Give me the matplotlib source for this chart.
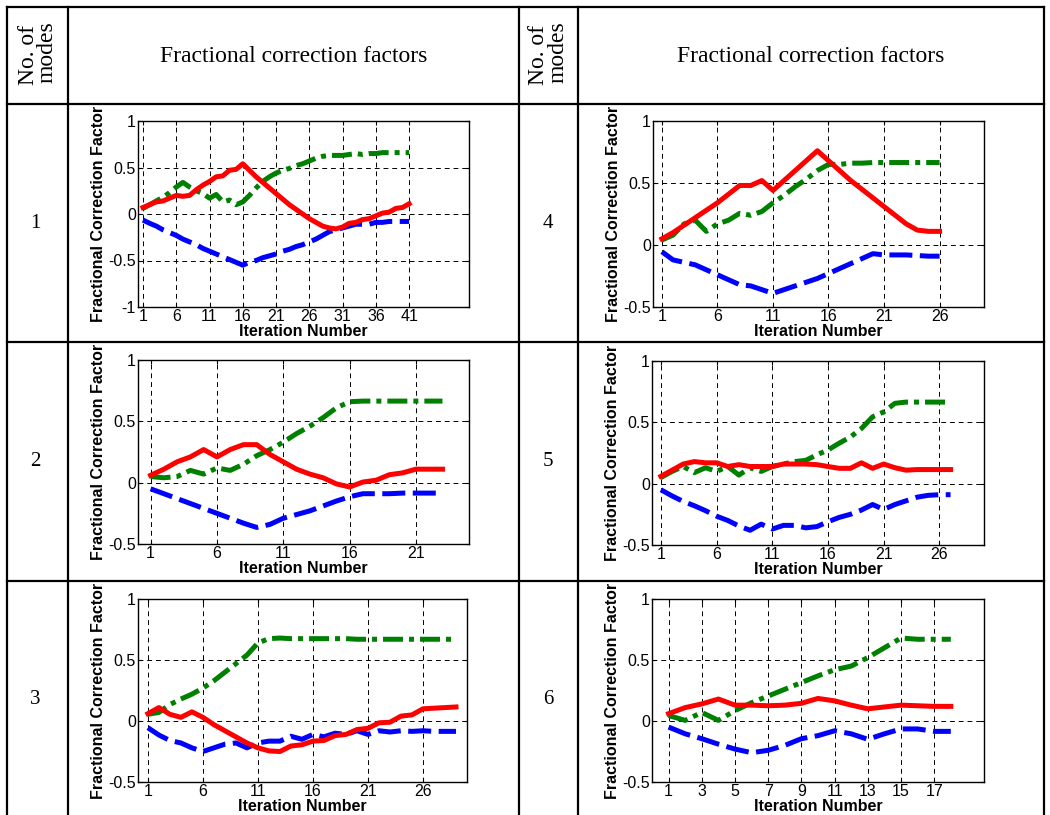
import matplotlib
matplotlib.use("Agg")
import matplotlib.pyplot as plt
from matplotlib.lines import Line2D

# mode 1
m1_red = [0.07, 0.10, 0.13, 0.14, 0.17, 0.20, 0.19, 0.20, 0.26, 0.31, 0.35, 0.40, 0.41, 0.47, 0.48,
          0.54, 0.47, 0.40, 0.34, 0.28, 0.22, 0.16, 0.10, 0.05, 0.00, -0.05, -0.09, -0.13, -0.15,
          -0.16, -0.14, -0.10, -0.09, -0.06, -0.05, -0.02, 0.01, 0.02, 0.06, 0.07, 0.11]
m1_green = [0.06, 0.10, 0.14, 0.18, 0.23, 0.29, 0.34, 0.29, 0.25, 0.22, 0.17, 0.21, 0.13, 0.15, 0.10,
            0.13, 0.20, 0.28, 0.35, 0.40, 0.44, 0.47, 0.49, 0.52, 0.54, 0.57, 0.60, 0.62, 0.63, 0.63,
            0.63, 0.64, 0.65, 0.64, 0.65, 0.65, 0.66, 0.66, 0.66, 0.66, 0.66]
m1_blue = [-0.065, -0.10, -0.13, -0.17, -0.20, -0.23, -0.27, -0.30, -0.33, -0.37, -0.40, -0.43, -0.46,
           -0.49, -0.52, -0.55, -0.52, -0.50, -0.47, -0.45, -0.43, -0.40, -0.38, -0.35, -0.33, -0.30,
           -0.27, -0.23, -0.19, -0.17, -0.15, -0.13, -0.11, -0.11, -0.11, -0.09, -0.09, -0.08, -0.08,
           -0.08, -0.08]

# mode 4
m4_red = [0.05, 0.10, 0.16, 0.22, 0.28, 0.34, 0.41, 0.48, 0.48, 0.52, 0.44, 0.52, 0.60, 0.68, 0.76,
          0.68, 0.60, 0.52, 0.45, 0.38, 0.31, 0.24, 0.17, 0.12, 0.11, 0.11]
m4_green = [0.04, 0.08, 0.17, 0.20, 0.11, 0.17, 0.20, 0.255, 0.24, 0.27, 0.34, 0.40, 0.47, 0.53, 0.60,
            0.65, 0.65, 0.66, 0.66, 0.665, 0.665, 0.665, 0.665, 0.665, 0.665, 0.665]
m4_blue = [-0.054, -0.12, -0.14, -0.16, -0.20, -0.24, -0.28, -0.32, -0.33, -0.36, -0.39, -0.36, -0.33,
           -0.30, -0.27, -0.23, -0.19, -0.15, -0.11, -0.07, -0.08, -0.08, -0.08, -0.085, -0.09, -0.09]

# mode 2
m2_red = [0.06, 0.11, 0.17, 0.21, 0.27, 0.21, 0.27, 0.31, 0.31, 0.23, 0.17, 0.11, 0.07, 0.04, -0.01,
          -0.035, 0.005, 0.02, 0.065, 0.08, 0.11, 0.11, 0.11]
m2_green = [0.05, 0.04, 0.05, 0.10, 0.07, 0.12, 0.10, 0.15, 0.22, 0.27, 0.33, 0.40, 0.46, 0.53, 0.61,
            0.66, 0.665, 0.665, 0.665, 0.665, 0.665, 0.665, 0.665]
m2_blue = [-0.05, -0.09, -0.13, -0.17, -0.21, -0.25, -0.29, -0.33, -0.365, -0.34, -0.29, -0.26, -0.23,
           -0.19, -0.15, -0.115, -0.09, -0.09, -0.09, -0.085, -0.085, -0.085, -0.085]

# mode 5
m5_red = [0.06, 0.11, 0.16, 0.18, 0.17, 0.17, 0.14, 0.155, 0.14, 0.14, 0.14, 0.16, 0.16, 0.16, 0.155,
          0.14, 0.125, 0.125, 0.17, 0.125, 0.16, 0.13, 0.11, 0.115, 0.115, 0.115, 0.115]
m5_green = [0.05, 0.10, 0.14, 0.09, 0.13, 0.10, 0.14, 0.07, 0.13, 0.10, 0.14, 0.16, 0.18, 0.19, 0.235,
            0.275, 0.33, 0.38, 0.45, 0.545, 0.585, 0.655, 0.665, 0.665, 0.665, 0.665, 0.665]
m5_blue = [-0.05, -0.10, -0.145, -0.18, -0.22, -0.265, -0.30, -0.345, -0.38, -0.33, -0.37, -0.34, -0.34,
           -0.36, -0.35, -0.31, -0.275, -0.25, -0.215, -0.17, -0.21, -0.17, -0.14, -0.11, -0.095, -0.09,
           -0.09]

# mode 3
m3_red = [0.06, 0.11, 0.055, 0.03, 0.075, 0.03, -0.03, -0.08, -0.13, -0.18, -0.22, -0.245, -0.25, -0.205,
          -0.195, -0.165, -0.16, -0.12, -0.11, -0.07, -0.06, -0.015, -0.01, 0.04, 0.05, 0.10, 0.105, 0.11,
          0.115]
m3_green = [0.055, 0.07, 0.135, 0.18, 0.22, 0.27, 0.33, 0.40, 0.47, 0.54, 0.64, 0.675, 0.68, 0.675, 0.675,
            0.675, 0.675, 0.675, 0.675, 0.67, 0.67, 0.67, 0.67, 0.67, 0.67, 0.67, 0.67, 0.67, 0.67]
m3_blue = [-0.055, -0.115, -0.16, -0.18, -0.22, -0.25, -0.22, -0.19, -0.18, -0.22, -0.18, -0.165, -0.165,
           -0.125, -0.15, -0.11, -0.13, -0.10, -0.11, -0.08, -0.11, -0.08, -0.09, -0.08, -0.085, -0.08,
           -0.085, -0.085, -0.085]

# mode 6
m6_red = [0.06, 0.11, 0.14, 0.18, 0.13, 0.13, 0.125, 0.13, 0.145, 0.185, 0.165, 0.13, 0.10, 0.115, 0.13,
          0.125, 0.12, 0.12]
m6_green = [0.045, 0.005, 0.07, 0.005, 0.085, 0.15, 0.205, 0.26, 0.315, 0.37, 0.42, 0.45, 0.52, 0.60,
            0.68, 0.67, 0.67, 0.67]
m6_blue = [-0.05, -0.105, -0.145, -0.19, -0.23, -0.26, -0.24, -0.20, -0.145, -0.12, -0.08, -0.105, -0.15,
           -0.105, -0.065, -0.065, -0.085, -0.085]

modes = ["1", "4", "2", "5", "3", "6"]
series = [(m1_red, m1_green, m1_blue), (m4_red, m4_green, m4_blue),
          (m2_red, m2_green, m2_blue), (m5_red, m5_green, m5_blue),
          (m3_red, m3_green, m3_blue), (m6_red, m6_green, m6_blue)]
xticks = [range(1, 42, 5), range(1, 27, 5), range(1, 22, 5), range(1, 27, 5), range(1, 27, 5), range(1, 18, 2)]
xlims = [(0.25, 50), (0.2, 30), (0.05, 25), (0.2, 30), (0.1, 30), (0.0, 20)]
ylims = [(-1, 1), (-0.5, 1), (-0.5, 1), (-0.5, 1), (-0.5, 1), (-0.5, 1)]
yticks = [[-1, -0.5, 0, 0.5, 1]] + [[-0.5, 0, 0.5, 1]] * 5
ytlabels = [["-1", "-0.5", "0", "0.5", "1"]] + [["-0.5", "0", "0.5", "1"]] * 5

W, H = 1050, 815
fig = plt.figure(figsize=(W / 100, H / 100), dpi=100)

# table layout in pixels
boxes = [(138, 121, 469, 307), (653, 121, 984, 307),
         (138, 360, 469, 544), (652, 361, 984, 545),
         (138, 599, 467, 782), (652, 599, 984, 782)]


def hline(y, x0, x1):
    fig.add_artist(Line2D([x0 / W, x1 / W], [1 - y / H, 1 - y / H], color="black", lw=1.6))


def vline(x, y0, y1):
    fig.add_artist(Line2D([x / W, x / W], [1 - y0 / H, 1 - y1 / H], color="black", lw=1.6))


for y in [7, 104, 342, 581]:
    hline(y, 7, 1044)
for x in [7, 68, 519, 578, 1044]:
    vline(x, 7, 815)

serif = "Liberation Serif"
for cx in [37, 548]:
    fig.text((cx - 9) / W, 1 - 55 / H, "No. of", rotation=90, ha="center", va="center",
             family=serif, fontsize=17)
    fig.text((cx + 10) / W, 1 - 52 / H, "modes", rotation=90, ha="center", va="center",
             family=serif, fontsize=17)
fig.text(294 / W, 1 - 56 / H, "Fractional correction factors", ha="center", va="center",
         family=serif, fontsize=17)
fig.text(811 / W, 1 - 56 / H, "Fractional correction factors", ha="center", va="center",
         family=serif, fontsize=17)

row_y = [223, 223, 462, 462, 700, 700]
row_x = [35, 548, 35, 548, 35, 548]

for k in range(6):
    l, t, r, b = boxes[k]
    ax = fig.add_axes([l / W, 1 - b / H, (r - l) / W, (b - t) / H])
    red, green, blue = series[k]
    ax.plot(list(range(1, len(blue) + 1)), blue, color="#0000ff", lw=3.6, dashes=(4.6, 1.5))
    ax.plot(list(range(1, len(green) + 1)), green, color="#008000", lw=3.6, dashes=(4, 1.2, 1, 1.2))
    ax.plot(list(range(1, len(red) + 1)), red, color="#ff0000", lw=3.6)
    ax.set_xlim(xlims[k])
    ax.set_ylim(ylims[k])
    ax.set_xticks(list(xticks[k]))
    ax.set_yticks(yticks[k])
    ax.set_yticklabels(ytlabels[k])
    ax.tick_params(direction="in", length=3, width=0.8, labelsize=11.5, pad=1.5,
                   top=True, right=True)
    for lab in ax.get_xticklabels() + ax.get_yticklabels():
        lab.set_family("Liberation Sans")
    ax.grid(True, color="black", ls=(0, (5, 4)), lw=0.7)
    for s in ax.spines.values():
        s.set_linewidth(1.0)
    ax.set_xlabel("Iteration Number", family="Liberation Sans", fontweight="bold",
                  fontsize=11.5, labelpad=0)
    ax.set_ylabel("Fractional Correction Factor", family="Liberation Sans", fontweight="bold",
                  fontsize=11.5, labelpad=2)
    fig.text(row_x[k] / W, 1 - row_y[k] / H, modes[k], ha="center", va="center",
             family=serif, fontsize=15)

fig.savefig("out.png", dpi=100)
